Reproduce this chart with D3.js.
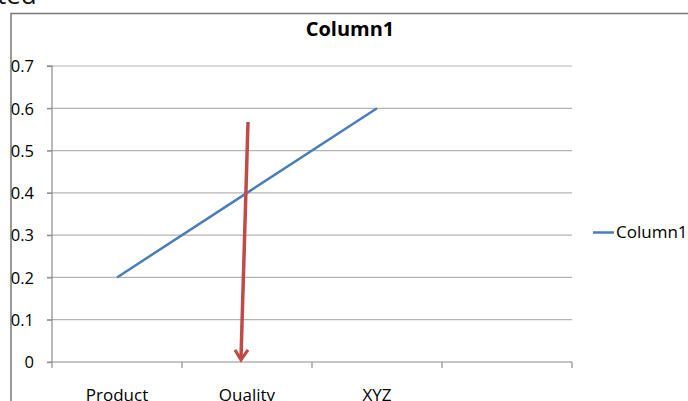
<!DOCTYPE html>
<html><head><meta charset="utf-8">
<script src="https://cdn.jsdelivr.net/npm/d3@7"></script>
<style>
html,body{margin:0;padding:0;background:#fff;overflow:hidden}
text{font-family:"Open Sans","Noto Sans",sans-serif}
</style></head>
<body><svg id="c" width="688" height="401"></svg>
<script>
const categories = ["Product","Quality","XYZ",""];
const seriesName = "Column1";
const values = [0.2,0.4,0.6,null];
const yTicks = [0,0.1,0.2,0.3,0.4,0.5,0.6,0.7];
const yTickLabels = ["0","0.1","0.2","0.3","0.4","0.5","0.6","0.7"];
const arrowFrom = {cat:"Quality", v:0.5675};
const arrowTo = {cat:"Quality", v:0.005};

const svg = d3.select("#c");
const plot = {left:52, right:572, top:66, bottom:362};
const x = d3.scaleBand().domain(categories).range([plot.left, plot.right]);
const y = d3.scaleLinear().domain([0,0.7]).range([plot.bottom, plot.top]);

// stray document text
svg.append("text").attr("x",-3).attr("y",4)
  .attr("font-size",26).attr("fill","#111").text("ted");

// chart border
svg.append("rect").attr("x",11).attr("y",13.5).attr("width",700).attr("height",420)
  .attr("fill","none").attr("stroke","#7a7a7a").attr("stroke-width",1.5);

// title
svg.append("text").attr("x",350).attr("y",35.5).attr("text-anchor","middle")
  .attr("font-size",20).attr("font-weight","bold").attr("fill","#000").text(seriesName);

// gridlines
svg.append("g").selectAll("line").data(yTicks.slice(1)).join("line")
  .attr("x1",plot.left-5).attr("x2",plot.right)
  .attr("y1",d=>y(d)).attr("y2",d=>y(d))
  .attr("stroke","#b4b4b4").attr("stroke-width",1.2);

// y axis
const yAxis = d3.axisLeft(y).tickValues(yTicks).tickSize(5).tickPadding(13)
  .tickFormat((d,i)=>yTickLabels[i]);
const gy = svg.append("g").attr("transform",`translate(${plot.left},0)`).call(yAxis);
gy.select(".domain").attr("stroke","#8c8c8c").attr("stroke-width",1.2).attr("d",`M-5,${plot.top}H0V${plot.bottom}`);
gy.selectAll(".tick line").attr("stroke","#8c8c8c").attr("stroke-width",1.2);
gy.selectAll(".tick text").attr("font-size",16.5).attr("fill","#000")
  .style("font-family","'Open Sans',sans-serif").attr("dy","0.35em");

// x axis
const gx = svg.append("g").attr("transform",`translate(0,${plot.bottom})`);
gx.append("line").attr("x1",plot.left-5).attr("x2",plot.right).attr("y1",0).attr("y2",0)
  .attr("stroke","#8c8c8c").attr("stroke-width",1.2);
const bounds = categories.map(c=>x(c)).concat([x(categories[categories.length-1])+x.bandwidth()]);
gx.selectAll("line.tk").data(bounds).join("line").attr("class","tk")
  .attr("x1",d=>d).attr("x2",d=>d).attr("y1",0).attr("y2",6)
  .attr("stroke","#8c8c8c").attr("stroke-width",1.2);
gx.selectAll("text").data(categories).join("text")
  .attr("x",d=>x(d)+x.bandwidth()/2).attr("y",39).attr("text-anchor","middle")
  .attr("font-size",17).attr("fill","#000").text(d=>d);

// series line
const pts = categories.map((c,i)=>({c, v:values[i]})).filter(d=>d.v!=null);
svg.append("path").datum(pts)
  .attr("d", d3.line().x(d=>x(d.c)+x.bandwidth()/2).y(d=>y(d.v)))
  .attr("fill","none").attr("stroke","#4a7ebb").attr("stroke-width",2.5);

// red arrow annotation
const ax1 = x(arrowFrom.cat)+x.bandwidth()/2+1, ay1 = y(arrowFrom.v);
const ax2 = x(arrowTo.cat)+x.bandwidth()/2-6, ay2 = y(arrowTo.v);
svg.append("line").attr("x1",ax1).attr("y1",ay1).attr("x2",ax2).attr("y2",ay2-2)
  .attr("stroke","#be4b48").attr("stroke-width",3.5);
svg.append("path")
  .attr("d",`M${ax2-6},${ay2-10}L${ax2},${ay2}L${ax2+7},${ay2-10}`)
  .attr("fill","none").attr("stroke","#be4b48").attr("stroke-width",3).attr("stroke-linejoin","miter");

// legend
svg.append("line").attr("x1",593).attr("x2",614).attr("y1",232.5).attr("y2",232.5)
  .attr("stroke","#4a7ebb").attr("stroke-width",2.5);
svg.append("text").attr("x",616).attr("y",232.5).attr("dy","0.35em")
  .attr("font-size",17).attr("fill","#000").text(seriesName);
</script></body></html>
